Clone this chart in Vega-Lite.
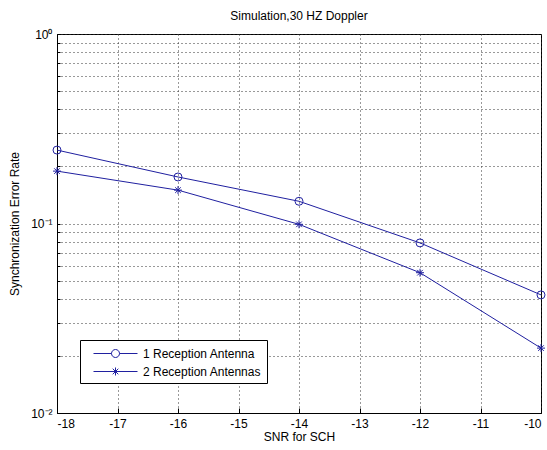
{
  "$schema": "https://vega.github.io/schema/vega-lite/v6.json",
  "autosize": "none",
  "width": 484,
  "height": 379,
  "padding": {"left": 57, "top": 34, "right": 6, "bottom": 37},
  "background": "white",
  "title": {"text": "Simulation,30 HZ Doppler", "fontSize": 12, "fontWeight": "normal", "font": "Liberation Sans", "color": "black", "anchor": "middle", "offset": 5},
  "config": {
    "view": {"stroke": "black", "strokeWidth": 1},
    "axis": {"labelFont": "Liberation Sans", "titleFont": "Liberation Sans", "labelFontSize": 12, "titleFontSize": 12, "titleFontWeight": "normal", "labelColor": "black", "titleColor": "black", "domainColor": "black", "tickColor": "black", "gridColor": "#333", "gridDash": [1, 3], "gridOpacity": 1, "gridWidth": 1},
    "legend": {"labelFont": "Liberation Sans", "labelFontSize": 12, "labelColor": "black"}
  },
  "data": {"values": [
    {"snr": -18, "rate": 0.244, "series": "1 Reception Antenna"},
    {"snr": -16, "rate": 0.176, "series": "1 Reception Antenna"},
    {"snr": -14, "rate": 0.131, "series": "1 Reception Antenna"},
    {"snr": -12, "rate": 0.079, "series": "1 Reception Antenna"},
    {"snr": -10, "rate": 0.042, "series": "1 Reception Antenna"},
    {"snr": -18, "rate": 0.189, "series": "2 Reception Antennas"},
    {"snr": -16, "rate": 0.150, "series": "2 Reception Antennas"},
    {"snr": -14, "rate": 0.099, "series": "2 Reception Antennas"},
    {"snr": -12, "rate": 0.055, "series": "2 Reception Antennas"},
    {"snr": -10, "rate": 0.022, "series": "2 Reception Antennas"}
  ]},
  "encoding": {
    "x": {"field": "snr", "type": "quantitative",
      "scale": {"domain": [-18, -10], "nice": false, "zero": false},
      "axis": {"title": "SNR for SCH", "values": [-18, -17, -16, -15, -14, -13, -12, -11, -10], "labelExpr": "'' + datum.value", "tickSize": -5, "labelPadding": 10, "titlePadding": 2, "grid": true}},
    "y": {"field": "rate", "type": "quantitative",
      "scale": {"type": "log", "domain": [0.01, 1], "nice": false},
      "axis": {"title": "Synchronization Error Rate", "values": [0.01, 0.02, 0.03, 0.04, 0.05, 0.06, 0.07, 0.08, 0.09, 0.1, 0.2, 0.3, 0.4, 0.5, 0.6, 0.7, 0.8, 0.9, 1], "labelExpr": "datum.value == 1 ? '10⁰' : datum.value == 0.1 ? '10⁻¹' : datum.value == 0.01 ? '10⁻²' : ''", "tickSize": -3, "labelPadding": 8, "titlePadding": 9, "grid": true}}
  },
  "resolve": {"scale": {"shape": "independent"}, "legend": {"shape": "independent"}},
  "layer": [
    {"mark": {"type": "line", "color": "#2020a0", "strokeWidth": 1},
     "encoding": {"detail": {"field": "series"}}},
    {"mark": {"type": "point", "filled": false, "color": "#2020a0", "strokeWidth": 1, "size": 64, "opacity": 1},
     "encoding": {"shape": {"field": "series", "type": "nominal",
       "scale": {"domain": ["1 Reception Antenna", "2 Reception Antennas"], "range": ["circle", "M-1,0H1M0,-1V1M-0.7,-0.7L0.7,0.7M-0.7,0.7L0.7,-0.7"]},
       "legend": null}}},
    {"mark": {"type": "point", "filled": false, "color": "#2020a0", "strokeWidth": 1, "size": 256, "opacity": 0},
     "encoding": {"shape": {"field": "series", "type": "nominal",
       "scale": {"domain": ["1 Reception Antenna", "2 Reception Antennas"], "range": ["M-2.75,0H-0.5A0.5,0.5 0 1 1 0.5,0A0.5,0.5 0 1 1 -0.5,0M0.5,0H2.75", "M-2.75,0H2.75M0,-0.5V0.5M-0.35,-0.35L0.35,0.35M-0.35,0.35L0.35,-0.35"]},
       "legend": {"title": null, "orient": "none", "legendX": 23, "legendY": 306, "padding": 5, "strokeColor": "black", "fillColor": "white", "symbolSize": 256, "symbolOffset": 22, "labelOffset": 19, "rowPadding": 3, "symbolStrokeColor": "#2020a0", "symbolFillColor": "transparent", "symbolStrokeWidth": 1, "symbolOpacity": 1}}}}
  ]
}
